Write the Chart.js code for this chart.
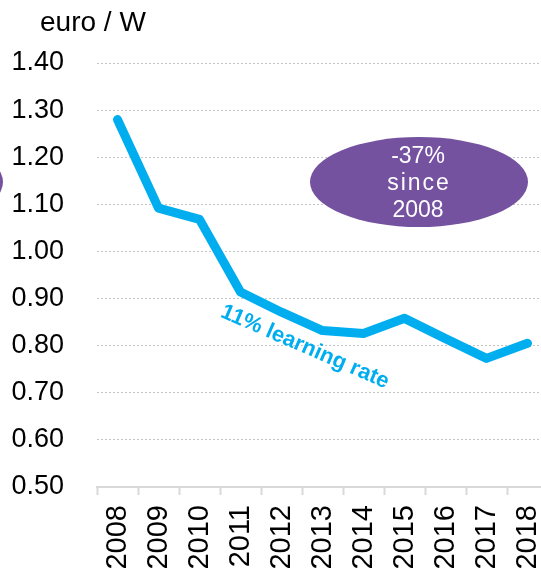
<!DOCTYPE html>
<html>
<head>
<meta charset="utf-8">
<script src="https://cdn.jsdelivr.net/npm/chart.js@4"></script>
<style>
  html, body { margin: 0; padding: 0; background: #fff; overflow: hidden; }
  canvas { display: block; }
</style>
</head>
<body>
<canvas id="cost" width="548" height="571"></canvas>
<script>
// years on the x axis
const years = ["2008", "2009", "2010", "2011", "2012", "2013", "2014", "2015", "2016", "2017", "2018"];
// price in euro per watt
const prices = [1.28, 1.092, 1.068, 0.914, 0.871, 0.832, 0.826, 0.858, 0.815, 0.773, 0.805];
// y axis range and step
const yTicks = [0.5, 1.4, 0.1];
const unitLabel = "euro / W";
const bubbleText = ["-37%", "since", "2008"];
const rateText = "11% learning rate";

const font = "'Liberation Sans', Arial, sans-serif";

//draws the unit label, the purple bubble and the slanted note
const notes = {
  id: "notes",
  afterDraw(chart) {
    const ctx = chart.ctx;
    ctx.save();
    ctx.setTransform(1, 0, 0, 1, 0, 0);
    ctx.fillStyle = "#000";
    ctx.font = "28px " + font;
    ctx.textAlign = "left";
    ctx.textBaseline = "alphabetic";
    ctx.fillText(unitLabel, 40, 31);

    ctx.fillStyle = "#7552a0";
    ctx.beginPath();
    ctx.ellipse(419, 182, 109, 45, 0, 0, Math.PI * 2);
    ctx.fill();
    // cut off shape on the left edge
    ctx.beginPath();
    ctx.ellipse(-105, 182, 108, 45, 0, 0, Math.PI * 2);
    ctx.fill();

    ctx.fillStyle = "#fff";
    ctx.font = "23px " + font;
    ctx.textAlign = "center";
    ctx.fillText(bubbleText[0], 418, 163);
    ctx.letterSpacing = "2px";
    ctx.fillText(bubbleText[1], 419, 190);
    ctx.letterSpacing = "0px";
    ctx.fillText(bubbleText[2], 418, 217);

    ctx.translate(305, 347);
    ctx.rotate(0.41);
    ctx.fillStyle = "#00aeef";
    ctx.font = "bold 22px " + font;
    ctx.textBaseline = "middle";
    ctx.fillText(rateText, 0, 0);
    ctx.restore();
  }
};

new Chart(document.getElementById("cost"), {
  type: "line",
  plugins: [notes],
  data: {
    labels: years,
    datasets: [{
      data: prices,
      borderColor: "#00aeef",
      borderWidth: 9,
      borderCapStyle: "round",
      borderJoinStyle: "round",
      pointRadius: 0,
      tension: 0,
      fill: false
    }]
  },
  options: {
    responsive: false,
    animation: false,
    layout: { padding: { top: 63, left: 0, right: 0, bottom: 0 } },
    plugins: { legend: { display: false }, tooltip: { enabled: false } },
    scales: {
      x: {
        offset: true,
        grid: {
          offset: true,
          drawOnChartArea: false,
          tickLength: 8,
          tickColor: "#d9d9d9",
          tickWidth: 2
        },
        border: { color: "#d9d9d9", width: 2 },
        ticks: {
          minRotation: 90,
          maxRotation: 90,
          padding: 10,
          color: "#000",
          font: { family: font, size: 29 }
        },
        afterFit: (scale) => {
          scale.height = 84;
          scale.paddingLeft = 0;
          scale.paddingRight = 0;
        }
      },
      y: {
        min: yTicks[0],
        max: yTicks[1],
        grid: {
          color: "#c4c4c4",
          lineWidth: 1,
          drawTicks: false
        },
        border: { display: false, dash: [2, 2] },
        ticks: {
          stepSize: yTicks[2],
          padding: 33,
          color: "#000",
          font: { family: font, size: 27 },
          callback: (v) => v.toFixed(2)
        },
        afterFit: (scale) => {
          scale.width = 97;
          scale.paddingTop = 0;
          scale.paddingBottom = 0;
        }
      }
    }
  }
});
</script>
</body>
</html>
